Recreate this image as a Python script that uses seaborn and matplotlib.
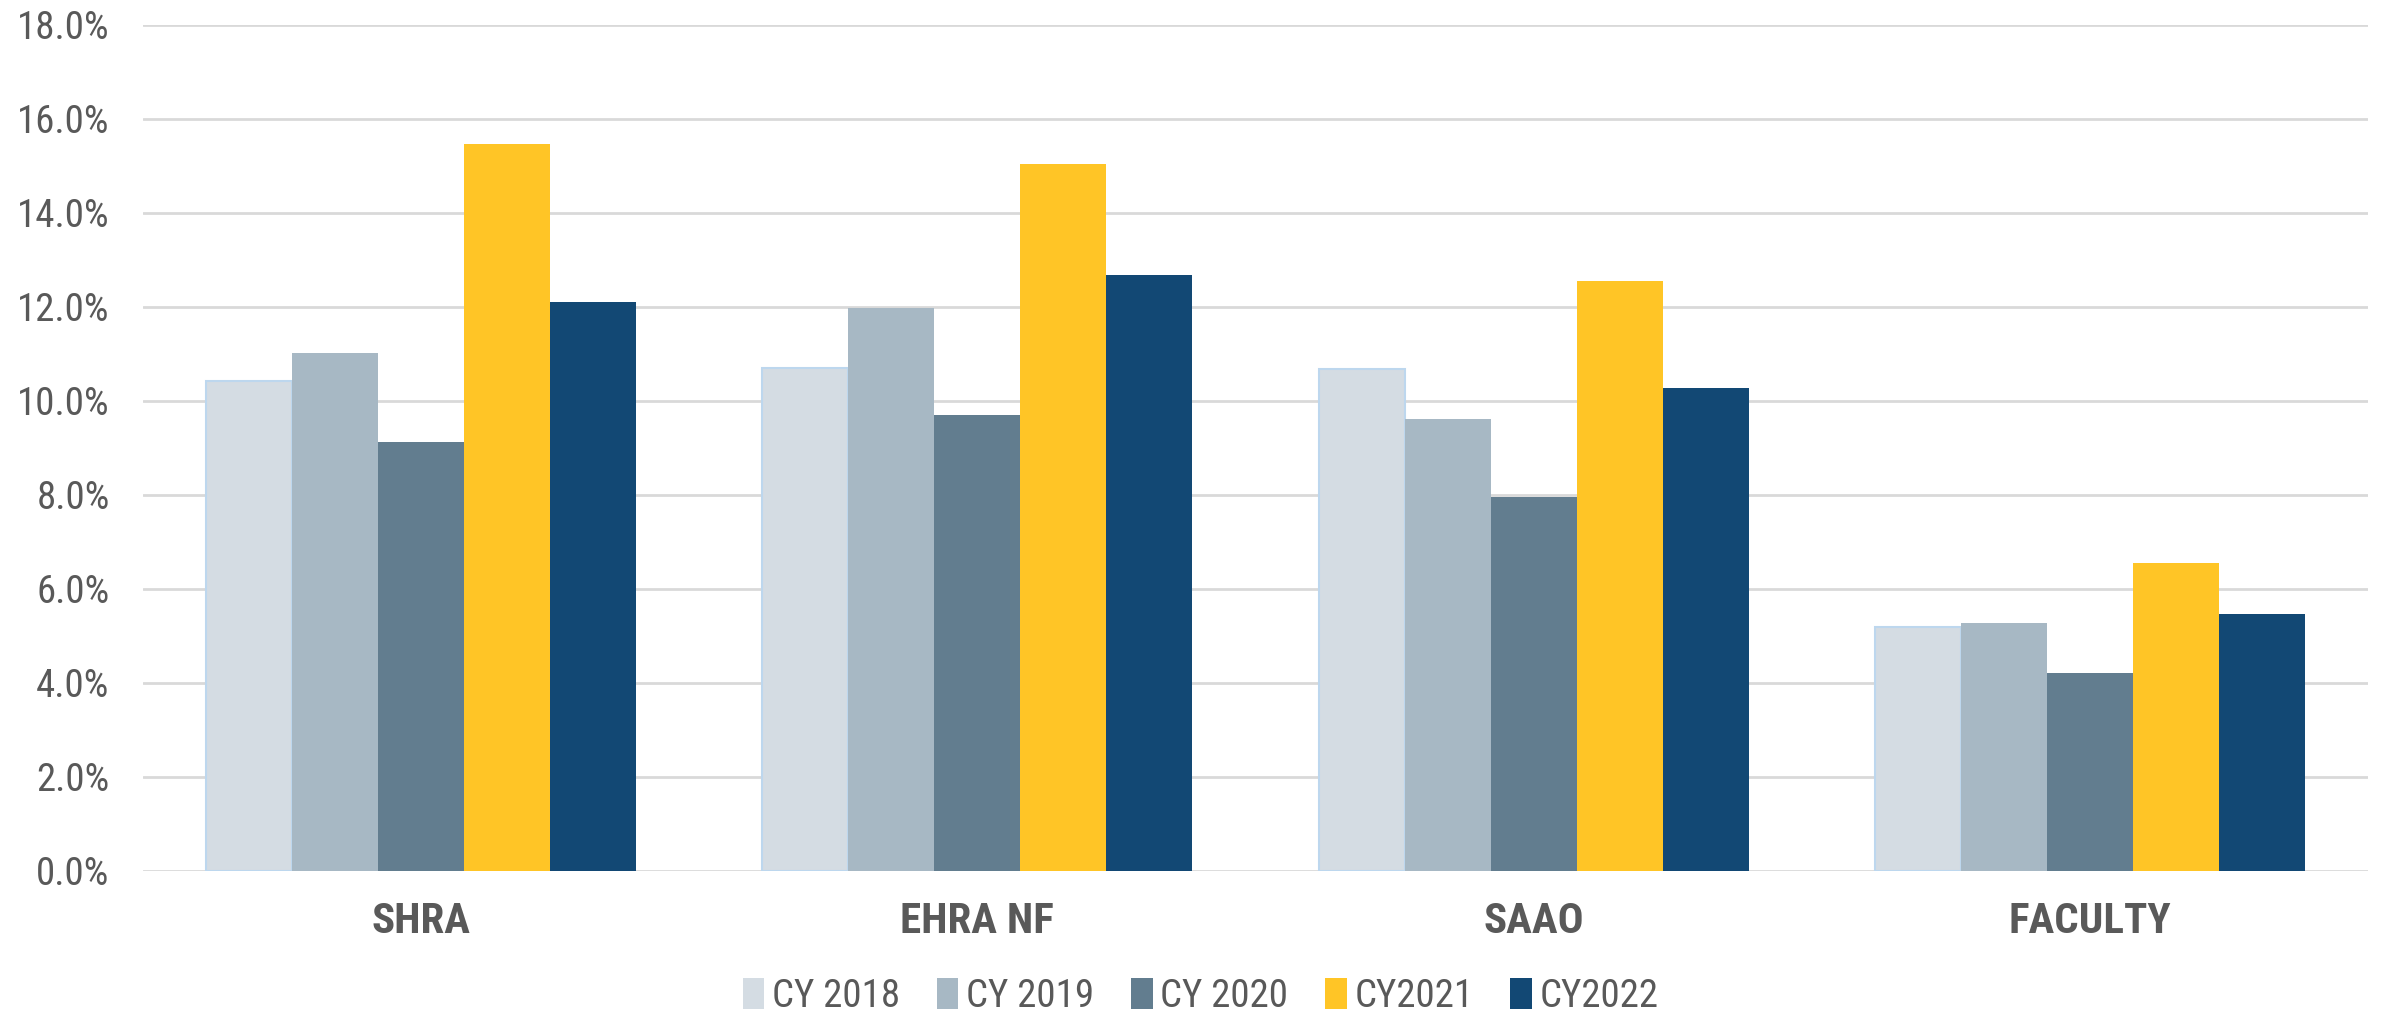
import matplotlib
matplotlib.use("Agg")
import matplotlib.pyplot as plt
from matplotlib import font_manager
from matplotlib.ticker import PercentFormatter
import seaborn as sns
import pandas as pd

categories = ["SHRA", "EHRA NF", "SAAO", "FACULTY"]
years = ["CY 2018", "CY 2019", "CY 2020", "CY2021", "CY2022"]
cy2018 = [0.1042, 0.1069, 0.1068, 0.0519]
cy2019 = [0.1101, 0.1198, 0.0961, 0.0527]
cy2020 = [0.0912, 0.0969, 0.0795, 0.0421]
cy2021 = [0.1546, 0.1504, 0.1255, 0.0655]
cy2022 = [0.1210, 0.1268, 0.1027, 0.0546]
colors = ["#D4DCE3", "#A7B8C4", "#627D8F", "#FFC526", "#124874"]

series = [cy2018, cy2019, cy2020, cy2021, cy2022]
rows = []
for yr, vals in zip(years, series):
    for cat, v in zip(categories, vals):
        rows.append({"category": cat, "year": yr, "value": v})
df = pd.DataFrame(rows)

sns.set_theme(style="white")
installed = {f.name for f in font_manager.fontManager.ttflist}
fam = "Roboto"
for cand in ["Liberation Sans Narrow", "Roboto Condensed", "Open Sans Condensed",
             "Noto Sans Condensed", "DejaVu Sans Condensed"]:
    if cand in installed:
        fam = cand
        break
plt.rcParams["font.family"] = [fam, "DejaVu Sans"]
text_color = "#595959"

fig = plt.figure(figsize=(23.87, 10.16), dpi=100)
ax = fig.add_axes([0.0599, 0.143, 0.9321, 0.8324])

sns.barplot(data=df, x="category", y="value", hue="year", order=categories,
            hue_order=years, palette=colors, width=0.773, gap=0,
            saturation=1, ax=ax, legend=True, edgecolor="none", linewidth=0)

# light blue outline on the first series
for cont, yr in zip(ax.containers, years):
    if yr == "CY 2018":
        for p in cont:
            p.set_edgecolor("#BDD7EE")
            p.set_linewidth(1.5)

ax.set_ylim(0, 0.18)
ax.set_yticks([i * 0.02 for i in range(10)])
ax.yaxis.set_major_formatter(PercentFormatter(1.0, decimals=1))
ax.grid(axis="y", color="#D9D9D9", linewidth=2)
ax.set_axisbelow(True)
for s in ax.spines.values():
    s.set_visible(False)
ax.set_xlabel("")
ax.set_ylabel("")
ax.tick_params(axis="y", length=0, pad=24, labelsize=28, labelcolor=text_color)
ax.tick_params(axis="x", length=0, pad=22, labelsize=31, labelcolor=text_color)
for lbl in ax.get_xticklabels():
    lbl.set_fontweight("bold")

handles, labels = ax.get_legend_handles_labels()
ax.get_legend().remove()
leg = fig.legend(handles, labels, loc="center", bbox_to_anchor=(0.503, 0.019),
                 ncol=5, frameon=False, fontsize=28, handlelength=0.55,
                 handleheight=0.85, handletextpad=0.2, columnspacing=0.95,
                 labelcolor=text_color)

fig.savefig("out.png", dpi=100)
